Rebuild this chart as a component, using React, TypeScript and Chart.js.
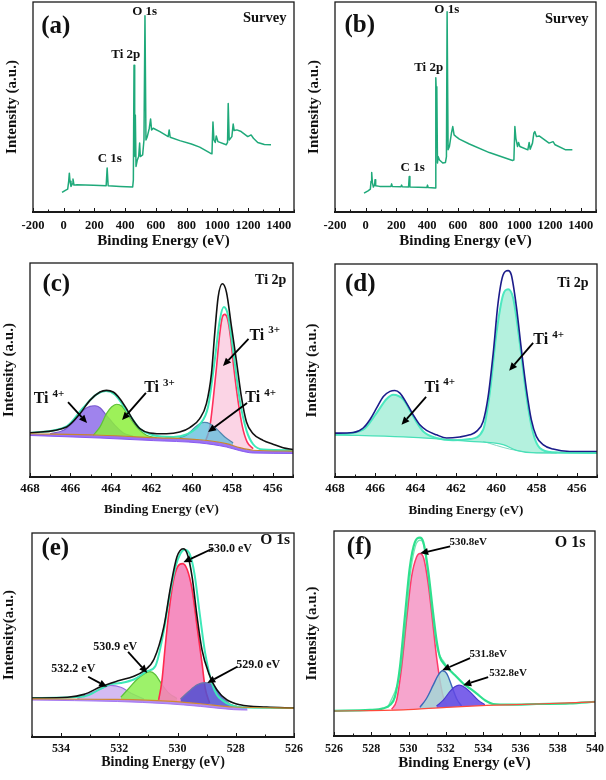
import React, { useEffect, useRef } from "react";
import { Chart, registerables } from "chart.js";

Chart.register(...registerables);

type Pt = [number, number];
const SERIF = '"Liberation Serif", "Times New Roman", Times, serif';
Chart.defaults.font.family = SERIF;

// ---------------- tick labels ----------------
const surveyTicks = [-200, 0, 200, 400, 600, 800, 1000, 1200, 1400];
const ti2pTicks = [468, 466, 464, 462, 460, 458, 456];
const o1sTicksE = [534, 532, 530, 528, 526];
const o1sTicksF = [526, 528, 530, 532, 534, 536, 538, 540];

// ---------------- (a) survey ----------------
const surveyA: Pt[] = [
  [-10.8, 9.3], [10.8, 10.3], [25.9, 10.9], [32.4, 14.6], [36.7, 18.5], [41.0, 14.6], [47.5, 12.2], [56.2, 13.4],
  [60.5, 15.7], [67.0, 12.8], [86.4, 13.0], [194.4, 12.7], [276.5, 12.5], [283.0, 20.9], [289.5, 12.5], [367.3, 12.2],
  [449.3, 11.9], [453.7, 15.3], [458.0, 69.9], [462.3, 45.4], [464.5, 26.4], [466.6, 46.2], [471.0, 21.7], [479.6, 24.8],
  [488.3, 26.4], [494.7, 32.8], [499.0, 26.4], [514.2, 27.2], [522.8, 34.3], [529.3, 93.4], [535.8, 34.3], [544.4, 35.9],
  [557.4, 39.9], [566.0, 44.3], [572.5, 39.1], [583.3, 39.9], [626.5, 38.3], [680.5, 35.9], [687.0, 39.1], [693.5, 35.6],
  [756.1, 34.0], [831.7, 32.4], [885.7, 30.9], [954.8, 28.0], [965.7, 27.7], [972.1, 42.9], [978.6, 34.3], [987.3, 33.1],
  [993.7, 36.2], [1004.5, 33.5], [1058.5, 32.0], [1067.2, 33.1], [1071.5, 51.7], [1078.0, 34.3], [1095.3, 35.9],
  [1103.9, 41.9], [1110.4, 38.8], [1127.7, 39.1], [1155.8, 38.3], [1199.0, 35.9], [1220.6, 36.7], [1235.7, 35.1],
  [1263.8, 33.1], [1307.0, 32.1], [1350.2, 32.0],
];

// ---------------- (b) survey ----------------
const surveyB: Pt[] = [
  [-10.8, 9.0], [15.1, 10.1], [30.3, 10.9], [34.6, 14.6], [39.0, 18.8], [43.3, 14.1], [49.8, 11.9], [58.4, 13.0],
  [60.6, 15.3], [64.9, 12.5], [90.9, 12.2], [164.5, 12.2], [168.8, 13.4], [173.1, 12.2], [229.4, 12.0], [233.7, 12.8],
  [238.1, 12.0], [279.2, 11.9], [283.5, 16.9], [287.8, 11.9], [398.2, 11.7], [402.5, 12.8], [406.8, 11.7], [452.3, 11.4],
  [456.6, 63.9], [460.9, 54.9], [463.1, 59.7], [467.4, 23.3], [471.7, 26.4], [480.4, 24.8], [502.1, 23.3], [519.4, 23.6],
  [525.9, 26.4], [530.2, 95.3], [536.7, 29.6], [545.3, 31.2], [558.3, 37.5], [567.0, 40.7], [575.6, 36.7], [588.6, 35.9],
  [610.3, 34.7], [675.2, 32.4], [805.0, 28.3], [956.5, 24.5], [965.2, 24.8], [971.6, 40.7], [978.1, 35.1], [988.9, 31.2],
  [995.5, 33.1], [1004.1, 31.2], [1056.0, 29.6], [1064.7, 33.1], [1071.2, 29.9], [1086.3, 32.8], [1095.0, 37.5],
  [1101.5, 38.3], [1112.3, 35.9], [1129.6, 36.2], [1194.5, 32.8], [1220.5, 33.5], [1233.5, 32.0], [1302.7, 29.6],
  [1346.0, 29.6],
];

// ---------------- (c) Ti 2p ----------------
const tiC_base: Pt[] = [[468, 20.2], [464.54, 19.5], [461.91, 18.4], [459.61, 17.4], [458.29, 15.6], [457.63, 13.7], [456.97, 12.5], [455, 12.1]];
const tiC_raw: Pt[] = [
  [468.0, 20.6], [466.19, 23.4], [465.53, 29.6], [465.04, 35.8], [464.54, 39.7], [464.22, 40.5], [463.89, 39.7], [463.56, 36.6],
  [463.23, 31.9], [462.9, 26.5], [462.57, 22.6], [462.08, 20.6], [461.25, 20.2], [460.6, 21.0], [460.1, 23.1], [459.61, 27.3],
  [459.28, 34.3], [459.03, 48.3], [458.87, 67.0], [458.7, 84.1], [458.49, 90.3], [458.29, 86.4], [458.04, 70.1], [457.8, 54.5],
  [457.55, 37.4], [457.3, 25.7], [456.97, 20.2], [456.48, 17.1], [455.99, 15.3], [455.49, 13.7], [455.0, 12.8],
];
const tiC_fit: Pt[] = [
  [468.0, 20.6], [466.19, 23.7], [465.37, 32.4], [464.71, 38.6], [464.25, 40.2], [463.81, 38.6], [463.23, 31.2], [462.57, 22.6],
  [461.91, 19.5], [460.92, 18.7], [460.27, 19.9], [459.61, 24.6], [459.2, 32.7], [458.87, 54.5], [458.62, 73.2], [458.42, 79.4],
  [458.21, 75.5], [457.96, 59.2], [457.63, 35.8], [457.3, 21.8], [456.97, 15.3], [456.48, 12.8], [455.0, 12.5],
];
const tiC_ti3a: Pt[] = [
  [459.31, 17.1], [459.11, 23.4], [458.95, 35.8], [458.78, 51.4], [458.62, 67.0], [458.49, 74.8], [458.37, 76.0], [458.24, 74.0],
  [458.09, 65.4], [457.93, 51.4], [457.72, 35.8], [457.5, 23.4], [457.27, 16.4], [456.97, 13.2],
];
const tiC_ti4a: Pt[] = [[460.76, 17.9], [460.27, 19.5], [459.85, 23.1], [459.61, 24.9], [459.36, 25.5], [459.11, 24.9], [458.79, 22.6], [458.37, 18.7], [457.96, 15.9]];
const tiC_ti3b: Pt[] = [[464.87, 19.5], [464.54, 23.4], [464.22, 29.6], [463.97, 32.7], [463.72, 34.0], [463.47, 33.2], [463.15, 28.8], [462.73, 23.4], [462.24, 19.5], [461.75, 18.4]];
const tiC_ti4b: Pt[] = [[467.01, 20.2], [466.35, 21.8], [465.86, 25.7], [465.37, 31.2], [465.04, 33.0], [464.79, 33.3], [464.54, 32.4], [464.22, 28.8], [463.8, 24.1], [463.39, 20.6], [462.9, 19.0]];
const tiC_band: Pt[] = [[468, 19.4], [464.54, 18.2], [461.91, 17.0], [459.61, 15.9], [458.29, 14.0], [457.63, 12.3], [456.97, 11.2], [455, 11.0]];

// ---------------- (d) Ti 2p ----------------
const tiD_base: Pt[] = [[468, 19.8], [464.61, 18.8], [461.31, 16.7], [459.66, 15.2], [459.0, 12.5], [458.01, 11.3], [455, 11.3]];
const tiD_raw: Pt[] = [
  [468.0, 20.6], [467.09, 20.9], [466.6, 23.0], [466.27, 26.9], [465.94, 32.3], [465.6, 37.8], [465.27, 40.2], [465.03, 40.6],
  [464.78, 39.4], [464.45, 34.7], [464.12, 29.2], [463.79, 24.5], [463.46, 21.9], [462.96, 19.8], [462.47, 18.3], [461.81, 18.8],
  [461.31, 19.8], [460.98, 21.4], [460.65, 26.1], [460.4, 37.8], [460.15, 58.1], [459.91, 81.6], [459.66, 94.8], [459.41, 96.9],
  [459.25, 94.8], [459.0, 80.0], [458.75, 59.7], [458.5, 40.9], [458.26, 26.9], [458.01, 19.1], [457.68, 15.2], [457.18, 13.1],
  [456.35, 12.0], [455.0, 12.0],
];
const tiD_fit: Pt[] = [
  [468.0, 19.8], [466.6, 22.2], [465.94, 30.0], [465.44, 36.6], [465.11, 38.6], [464.61, 36.3], [464.12, 28.4], [463.62, 21.4],
  [462.96, 18.3], [462.14, 17.2], [461.31, 17.8], [460.65, 22.2], [460.32, 39.4], [459.99, 67.5], [459.66, 85.5], [459.41, 88.1],
  [459.16, 83.9], [458.83, 62.8], [458.5, 37.8], [458.17, 20.6], [457.84, 13.6], [457.18, 11.6], [455.0, 11.3],
];
const tiD_low: Pt[] = [[460.65, 16.7], [459.33, 13.1], [458.34, 11.6], [457.0, 11.2]];

// ---------------- (e) O 1s ----------------
const oE_base: Pt[] = [[535, 18.7], [532.07, 18.4], [530.36, 17.6], [529.22, 16.3], [528.08, 14.7], [526, 14.2]];
const oE_raw: Pt[] = [
  [535.0, 19.1], [533.78, 19.5], [533.21, 20.9], [532.64, 24.6], [532.07, 27.4], [531.5, 29.8], [531.16, 32.4], [530.81, 38.1],
  [530.47, 54.1], [530.24, 73.6], [530.02, 88.3], [529.81, 92.3], [529.67, 89.9], [529.5, 78.5], [529.33, 59.0], [529.16, 42.7],
  [528.93, 31.3], [528.65, 23.1], [528.3, 18.2], [527.85, 15.8], [526.94, 14.7], [526.0, 14.2],
];
const oE_fit: Pt[] = [
  [535.0, 19.1], [533.21, 19.9], [532.64, 23.6], [532.3, 25.9], [531.95, 26.5], [531.5, 28.2], [531.04, 32.3], [530.76, 34.8],
  [530.49, 50.8], [530.3, 67.1], [530.07, 83.4], [529.9, 89.9], [529.76, 91.8], [529.58, 89.6], [529.42, 80.1], [529.24, 60.6],
  [529.05, 41.0], [528.82, 26.4], [528.65, 20.7], [528.48, 18.2], [528.19, 15.8], [527.62, 14.4], [526.0, 14.2],
];
const oE_p5300: Pt[] = [
  [530.65, 18.2], [530.54, 27.2], [530.43, 43.5], [530.31, 59.8], [530.15, 76.1], [529.99, 83.7], [529.83, 85.0], [529.67, 82.1],
  [529.5, 72.3], [529.33, 54.1], [529.16, 36.2], [529.05, 23.9], [528.9, 16.6],
];
const oE_p5309: Pt[] = [[531.95, 19.5], [531.67, 23.9], [531.38, 28.4], [531.16, 30.8], [530.95, 32.0], [530.76, 30.5], [530.53, 25.6], [530.3, 21.5], [530.02, 18.9]];
const oE_p5290: Pt[] = [[529.9, 18.6], [529.62, 22.3], [529.33, 25.6], [529.05, 26.7], [528.76, 25.1], [528.48, 20.2], [528.19, 16.0], [527.96, 15.0]];
const oE_p5322: Pt[] = [[533.44, 18.9], [533.04, 21.2], [532.64, 23.6], [532.3, 25.3], [531.95, 24.4], [531.56, 21.2], [531.16, 18.7]];
const oE_band: Pt[] = [[535, 18.1], [532.07, 17.4], [530.36, 16.3], [529.22, 15.0], [528.08, 13.4], [527.6, 13.2]];

// ---------------- (f) O 1s ----------------
const oF_base: Pt[] = [[526, 12.2], [529.71, 12.7], [532.04, 14.0], [534.18, 14.9], [536.86, 15.6], [540, 16.6]];
const oF_raw: Pt[] = [
  [526.0, 12.3], [527.93, 12.7], [528.64, 13.5], [529.0, 15.1], [529.27, 19.2], [529.54, 33.8], [529.8, 58.1], [530.07, 82.5],
  [530.34, 94.6], [530.61, 96.8], [530.79, 94.6], [531.05, 80.8], [531.32, 59.7], [531.5, 46.8], [531.68, 38.6], [531.95, 34.6],
  [532.21, 32.1], [532.57, 28.9], [532.93, 25.6], [533.29, 23.2], [533.64, 20.8], [534.09, 17.5], [534.54, 15.6], [535.43, 15.3],
  [536.86, 15.6], [538.64, 15.9], [540.0, 16.7],
];
const oF_fit: Pt[] = [
  [528.9, 14.0], [529.57, 32.1], [529.86, 56.5], [530.11, 80.0], [530.38, 93.0], [530.61, 95.5], [530.82, 93.0], [531.0, 81.7],
  [531.25, 61.4], [531.43, 48.4], [531.59, 41.1], [531.86, 36.6], [532.2, 32.4],
];
const oF_p5308: Pt[] = [
  [529.09, 13.0], [529.36, 17.5], [529.63, 33.8], [529.89, 56.5], [530.16, 77.6], [530.43, 87.3], [530.61, 89.0], [530.82, 86.5],
  [531.05, 74.4], [531.32, 53.2], [531.5, 38.6], [531.68, 27.3], [531.86, 19.2], [532.07, 14.6],
];
const oF_p5318: Pt[] = [[530.61, 14.0], [530.96, 18.3], [531.32, 24.8], [531.59, 29.7], [531.82, 31.8], [532.04, 30.5], [532.3, 24.8], [532.57, 18.3], [532.84, 14.6]];
const oF_p5328: Pt[] = [[531.5, 14.6], [531.86, 17.5], [532.21, 21.6], [532.48, 24.0], [532.71, 24.8], [533.02, 23.7], [533.38, 20.8], [533.73, 17.5], [534.09, 15.3]];

// ---------------- panel specs ----------------
interface Series { data: Pt[]; color: string; width: number; fill?: string; smooth?: boolean }
interface Label { text: string; at: Pt; size: number; sup?: string }
interface Arrow { from: Pt; to: Pt }
interface PanelSpec {
  col: number; box: [number, number, number, number]; xh: number;
  xMin: number; xMax: number; reverse: boolean; ticks: number[]; minor: number;
  tickSize: number; tickPad: number; titleSize: number; yTitle: string; yTitleX: number;
  series: Series[]; labels: Label[]; arrows: Arrow[];
}

const SURVEY_GREEN = "#1fa97a";

const panels: PanelSpec[] = [
  {
    col: 0, box: [33, 2, 294, 212], xh: 38, xMin: -200, xMax: 1500, reverse: false, ticks: surveyTicks, minor: 100,
    tickSize: 12.5, tickPad: 6, titleSize: 15, yTitle: "Intensity (a.u.)", yTitleX: 12,
    series: [{ data: surveyA, color: SURVEY_GREEN, width: 1.5 }],
    labels: [
      { text: "(a)", at: [-52, 88.1], size: 25 }, { text: "Survey", at: [1309, 92.4], size: 14.5 },
      { text: "O 1s", at: [527.5, 95.2], size: 13 }, { text: "Ti 2p", at: [404, 74.8], size: 13 },
      { text: "C 1s", at: [300, 25.2], size: 13 },
    ],
    arrows: [],
  },
  {
    col: 303, box: [335, 2, 596, 212], xh: 38, xMin: -200, xMax: 1500, reverse: false, ticks: surveyTicks, minor: 100,
    tickSize: 12.5, tickPad: 6, titleSize: 15, yTitle: "Intensity (a.u.)", yTitleX: 314,
    series: [{ data: surveyB, color: SURVEY_GREEN, width: 1.5 }],
    labels: [
      { text: "(b)", at: [-39, 88.6], size: 25 }, { text: "Survey", at: [1309, 91.9], size: 14.5 },
      { text: "O 1s", at: [528, 96.2], size: 13 }, { text: "Ti 2p", at: [410, 68.6], size: 13 },
      { text: "C 1s", at: [306, 21], size: 13 },
    ],
    arrows: [],
  },
  {
    col: 0, box: [30, 263, 293, 477], xh: 40, xMin: 455, xMax: 468, reverse: true, ticks: ti2pTicks, minor: 1,
    tickSize: 13, tickPad: 4, titleSize: 13, yTitle: "Intensity (a.u.)", yTitleX: 9,
    series: [
      { data: tiC_base, color: "#c8862e", width: 1.2, smooth: true },
      { data: tiC_raw, color: "#111111", width: 1.6, smooth: true },
      { data: tiC_fit, color: "#3ee8b8", width: 2, smooth: true },
      { data: tiC_ti4a, color: "#4f86b0", width: 1.2, fill: "rgba(100,190,220,0.78)", smooth: true },
      { data: tiC_ti3a, color: "#ff2f5c", width: 1.6, fill: "rgba(250,205,225,0.85)", smooth: true },
      { data: tiC_ti3b, color: "#5fc03a", width: 1.2, fill: "rgba(140,238,60,0.85)", smooth: true },
      { data: tiC_ti4b, color: "#7a5ad0", width: 1.2, fill: "rgba(135,100,232,0.8)", smooth: true },
      { data: tiC_band, color: "rgba(130,80,240,0.9)", width: 1, fill: "rgba(130,80,240,0.8)", smooth: true },
    ],
    labels: [
      { text: "(c)", at: [466.7, 89.7], size: 25 }, { text: "Ti 2p", at: [456.1, 92], size: 14 },
      { text: "Ti", sup: "3+", at: [456.4, 66.0], size: 16 }, { text: "Ti", sup: "4+", at: [456.6, 36.9], size: 16 },
      { text: "Ti", sup: "3+", at: [461.6, 41.6], size: 16 }, { text: "Ti", sup: "4+", at: [467.06, 36.4], size: 16 },
    ],
    arrows: [
      { from: [457.2, 64.5], to: [458.46, 51.9] }, { from: [457.27, 34.6], to: [459.2, 21] },
      { from: [462.27, 39.3], to: [463.45, 26.6] }, { from: [466.12, 35], to: [465.18, 25.2] },
    ],
  },
  {
    col: 303, box: [335, 264, 597, 477], xh: 41, xMin: 455, xMax: 468, reverse: true, ticks: ti2pTicks, minor: 1,
    tickSize: 13, tickPad: 4, titleSize: 13, yTitle: "Intensity (a.u.)", yTitleX: 312,
    series: [
      { data: tiD_base, color: "#48e0b8", width: 1.2, smooth: true },
      { data: tiD_raw, color: "#1c1c8a", width: 1.6, smooth: true },
      { data: tiD_fit, color: "#4de8c0", width: 2, fill: "rgba(130,232,200,0.6)", smooth: true },
      { data: tiD_low, color: "#7ed8c0", width: 1, smooth: true },
    ],
    labels: [
      { text: "(d)", at: [466.75, 90.2], size: 25 }, { text: "Ti 2p", at: [456.2, 91.1], size: 14 },
      { text: "Ti", sup: "4+", at: [457.4, 64.4], size: 16 }, { text: "Ti", sup: "4+", at: [462.8, 41.9], size: 16 },
    ],
    arrows: [{ from: [458.17, 63], to: [459.36, 49.9] }, { from: [463.48, 37.6], to: [464.7, 24.5] }],
  },
  {
    col: 0, box: [32, 533, 294, 737], xh: 34, xMin: 526, xMax: 535, reverse: true, ticks: o1sTicksE, minor: 1,
    tickSize: 12, tickPad: 5, titleSize: 14, yTitle: "Intensity(a.u.)", yTitleX: 9,
    series: [
      { data: oE_base, color: "#d08a30", width: 1.2, smooth: true },
      { data: oE_raw, color: "#111111", width: 1.6, smooth: true },
      { data: oE_fit, color: "#3ee8b8", width: 2, smooth: true },
      { data: oE_p5290, color: "#6a78a8", width: 1.2, fill: "rgba(80,80,210,0.85)", smooth: true },
      { data: oE_p5300, color: "#ff2a50", width: 1.6, fill: "rgba(244,130,185,0.9)", smooth: true },
      { data: oE_p5309, color: "#5cc03a", width: 1.2, fill: "rgba(140,240,80,0.85)", smooth: true },
      { data: oE_p5322, color: "#9a70e0", width: 1.2, fill: "rgba(205,175,240,0.85)", smooth: true },
      { data: oE_band, color: "rgba(160,112,240,0.9)", width: 1, fill: "rgba(160,112,240,0.8)", smooth: true },
    ],
    labels: [
      { text: "(e)", at: [534.2, 92.5], size: 25 }, { text: "O 1s", at: [526.65, 96.8], size: 15.5 },
      { text: "530.0 eV", at: [528.2, 92], size: 12 }, { text: "530.9 eV", at: [532.14, 44.1], size: 12 },
      { text: "532.2 eV", at: [533.58, 33.4], size: 12 }, { text: "529.0 eV", at: [527.23, 35.3], size: 12 },
    ],
    arrows: [
      { from: [528.77, 92.5], to: [529.8, 85.7] }, { from: [531.7, 41.7], to: [531.04, 31.4] },
      { from: [533.07, 29.5], to: [532.42, 24.6] }, { from: [527.95, 34.4], to: [528.98, 26.5] },
    ],
  },
  {
    col: 303, box: [334, 531, 595, 736], xh: 36, xMin: 526, xMax: 540, reverse: false, ticks: o1sTicksF, minor: 1,
    tickSize: 12, tickPad: 6, titleSize: 15, yTitle: "Intensity (a.u.)", yTitleX: 312,
    series: [
      { data: oF_base, color: "#ff4a3a", width: 1.2, smooth: true },
      { data: oF_raw, color: "#2ee08e", width: 2.2, smooth: true },
      { data: oF_fit, color: "rgba(60,220,150,0.7)", width: 1.3, smooth: true },
      { data: oF_p5328, color: "#4a3ad0", width: 1.2, fill: "rgba(100,70,230,0.85)", smooth: true },
      { data: oF_p5318, color: "#3a68b8", width: 1.4, fill: "rgba(165,215,215,0.85)", smooth: true },
      { data: oF_p5308, color: "#ff3a6a", width: 1.5, fill: "rgba(245,155,200,0.9)", smooth: true },
    ],
    labels: [
      { text: "(f)", at: [527.36, 92], size: 25 }, { text: "O 1s", at: [538.67, 94], size: 16 },
      { text: "530.8eV", at: [533.2, 94.5], size: 11 }, { text: "531.8eV", at: [534.27, 39.9], size: 11 },
      { text: "532.8eV", at: [535.34, 30.7], size: 11 },
    ],
    arrows: [
      { from: [532.23, 92.5], to: [530.62, 89.1] }, { from: [533.3, 38], to: [531.8, 32.1] },
      { from: [534.27, 28.7], to: [532.93, 24.8] },
    ],
  },
];

function canvasGeom(p: PanelSpec) {
  const [, T, , B] = p.box;
  const top = Math.max(0, T - 4);
  const height = B + p.xh + 2 - top;
  return { top, height };
}

function decorPlugin(p: PanelSpec) {
  return {
    id: "decor",
    afterDraw(chart: any) {
      const { ctx, chartArea: a, scales } = chart;
      const xs = scales.x, ys = scales.y;
      ctx.save();
      // inward ticks
      ctx.strokeStyle = "#111";
      ctx.lineWidth = 1;
      const n = Math.round((p.xMax - p.xMin) / p.minor);
      for (let i = 0; i <= n; i++) {
        const v = p.xMin + i * p.minor;
        const px = Math.round(xs.getPixelForValue(v)) + 0.5;
        const major = p.ticks.some((t) => Math.abs(t - v) < 1e-6);
        const len = major ? 4 : 2.5;
        ctx.beginPath();
        ctx.moveTo(px, a.bottom);
        ctx.lineTo(px, a.bottom - len);
        ctx.stroke();
      }
      // frame
      ctx.lineWidth = 1.3;
      ctx.strokeStyle = "#1a1a1a";
      ctx.strokeRect(a.left, a.top, a.right - a.left, a.bottom - a.top);
      ctx.lineWidth = 2;
      ctx.beginPath();
      ctx.moveTo(a.left - 1, a.bottom);
      ctx.lineTo(a.right + 1, a.bottom);
      ctx.stroke();
      // arrows
      ctx.strokeStyle = "#000";
      ctx.fillStyle = "#000";
      for (const ar of p.arrows) {
        const x1 = xs.getPixelForValue(ar.from[0]), y1 = ys.getPixelForValue(ar.from[1]);
        const x2 = xs.getPixelForValue(ar.to[0]), y2 = ys.getPixelForValue(ar.to[1]);
        const ang = Math.atan2(y2 - y1, x2 - x1);
        const hl = 8, hw = 3.6;
        const bx = x2 - hl * Math.cos(ang), by = y2 - hl * Math.sin(ang);
        ctx.lineWidth = 1.8;
        ctx.beginPath();
        ctx.moveTo(x1, y1);
        ctx.lineTo(bx, by);
        ctx.stroke();
        ctx.beginPath();
        ctx.moveTo(x2, y2);
        ctx.lineTo(bx + hw * Math.sin(ang), by - hw * Math.cos(ang));
        ctx.lineTo(bx - hw * Math.sin(ang), by + hw * Math.cos(ang));
        ctx.closePath();
        ctx.fill();
      }
      // labels
      ctx.fillStyle = "#111";
      ctx.textBaseline = "middle";
      ctx.textAlign = "left";
      for (const lb of p.labels) {
        const px = xs.getPixelForValue(lb.at[0]), py = ys.getPixelForValue(lb.at[1]);
        const mainFont = `bold ${lb.size}px ${SERIF}`;
        ctx.font = mainFont;
        const w1 = ctx.measureText(lb.text).width;
        let total = w1, w2 = 0, gap = 0;
        const supSize = Math.round(lb.size * 0.66);
        const supFont = `bold ${supSize}px ${SERIF}`;
        if (lb.sup) {
          ctx.font = supFont;
          w2 = ctx.measureText(lb.sup).width;
          gap = lb.size * 0.25;
          total += gap + w2;
        }
        const sx = px - total / 2;
        ctx.font = mainFont;
        ctx.fillText(lb.text, sx, py);
        if (lb.sup) {
          ctx.font = supFont;
          ctx.fillText(lb.sup, sx + w1 + gap, py - lb.size * 0.32);
        }
      }
      ctx.restore();
    },
  };
}

function buildConfig(p: PanelSpec): any {
  const [L, T, R] = p.box;
  const { top } = canvasGeom(p);
  const yw = L - p.col;
  const ylh = 15 * 1.2;
  const datasets = p.series.map((s) => ({
    data: s.data.map(([x, y]) => ({ x, y })),
    borderColor: s.color,
    borderWidth: s.width,
    backgroundColor: s.fill ?? "rgba(0,0,0,0)",
    fill: s.fill ? 0 : false,
    cubicInterpolationMode: s.smooth ? "monotone" : "default",
    tension: 0,
    pointRadius: 0,
    pointHoverRadius: 0,
    borderJoinStyle: "round",
  }));
  return {
    type: "line",
    data: { datasets },
    options: {
      responsive: false,
      animation: false,
      devicePixelRatio: 1,
      events: [],
      layout: { padding: { left: 0, top: T - top, right: p.col + 303 - R, bottom: 2 } },
      plugins: { legend: { display: false }, tooltip: { enabled: false } },
      scales: {
        x: {
          type: "linear",
          min: p.xMin,
          max: p.xMax,
          reverse: p.reverse,
          grid: { display: false, drawTicks: false },
          border: { display: false },
          ticks: {
            autoSkip: false,
            maxRotation: 0,
            padding: p.tickPad,
            color: "#111",
            font: { family: SERIF, size: p.tickSize, weight: "bold" },
            callback: (v: number) => String(v),
          },
          afterBuildTicks: (s: any) => {
            s.ticks = p.ticks.map((v) => ({ value: v }));
          },
          afterFit: (s: any) => {
            s.height = p.xh;
            s.paddingLeft = 0;
            s.paddingRight = 0;
          },
          title: {
            display: true,
            text: "Binding Energy (eV)",
            color: "#111",
            padding: 0,
            font: { family: SERIF, size: p.titleSize, weight: "bold" },
          },
        },
        y: {
          type: "linear",
          min: 0,
          max: 100,
          grid: { display: false, drawTicks: false },
          border: { display: false },
          ticks: { display: false },
          afterFit: (s: any) => {
            s.width = yw;
            s.paddingTop = 0;
            s.paddingBottom = 0;
          },
          title: {
            display: true,
            text: p.yTitle,
            color: "#111",
            padding: { top: Math.max(0, p.yTitleX - p.col - ylh / 2), bottom: 0 },
            font: { family: SERIF, size: 15, weight: "bold" },
          },
        },
      },
    },
    plugins: [decorPlugin(p)],
  };
}

function Panel({ p }: { p: PanelSpec }) {
  const ref = useRef<HTMLCanvasElement>(null);
  const { top, height } = canvasGeom(p);
  useEffect(() => {
    if (!ref.current) return;
    const chart = new Chart(ref.current, buildConfig(p));
    return () => chart.destroy();
  }, []);
  return (
    <canvas
      ref={ref}
      width={303}
      height={height}
      style={{ position: "absolute", left: p.col, top, width: 303, height, display: "block" }}
    />
  );
}

export default function App() {
  return (
    <div style={{ position: "absolute", left: 0, top: 0, width: 606, height: 780, background: "#fff", overflow: "hidden" }}>
      {panels.map((p, i) => (
        <Panel key={i} p={p} />
      ))}
    </div>
  );
}
